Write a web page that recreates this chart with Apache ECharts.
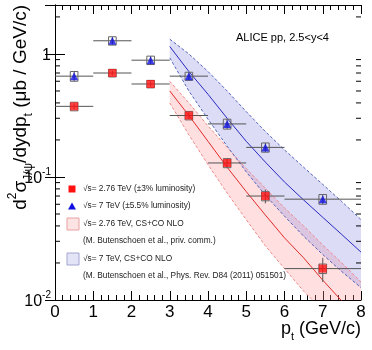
<!DOCTYPE html>
<html>
<head>
<meta charset="utf-8">
<script src="https://cdn.jsdelivr.net/npm/echarts@6/dist/echarts.min.js"></script>
<style>
  html, body { margin: 0; padding: 0; background: #fff; }
  #chart { width: 372px; height: 350px; }
</style>
</head>
<body>
<div id="chart"></div>
<script>
// measured points, bin centres and bin edges (GeV/c)
var ptBins = [0.5, 1.5, 2.5, 3.5, 4.5, 5.5, 7];
var binLo = [0, 1, 2, 3, 4, 5, 6];
var binHi = [1, 2, 3, 4, 5, 6, 8];

// sqrt(s) = 2.76 TeV
var red276 = [0.375, 0.70, 0.57, 0.316, 0.130, 0.070, 0.018];
var redStat = [0.02, 0.03, 0.025, 0.02, 0.012, 0.009, 0.004];
var redSys = [0.03, 0.05, 0.04, 0.025, 0.011, 0.006, 0.0016];

// sqrt(s) = 7 TeV
var blue7 = [0.66, 1.28, 0.89, 0.66, 0.27, 0.174, 0.066];
var blueStat = [0.06, 0.09, 0.07, 0.05, 0.025, 0.015, 0.006];
var blueSys = [0.06, 0.10, 0.07, 0.05, 0.025, 0.015, 0.006];

// NLO CS+CO bands
var ptTheory = [3, 3.5, 4, 4.5, 5, 5.5, 6, 6.5, 7, 7.5, 8];
var redMid = [0.50, 0.316, 0.195, 0.120, 0.076, 0.049, 0.032, 0.022, 0.0145, 0.0098, 0.0068];
var redUp = [0.60, 0.40, 0.26, 0.174, 0.117, 0.081, 0.056, 0.040, 0.028, 0.020, 0.014];
var redDown = [0.40, 0.22, 0.126, 0.074, 0.045, 0.0275, 0.018, 0.0118, 0.0082, 0.0055, 0.0036];
var blueMid = [1.15, 0.72, 0.47, 0.30, 0.195, 0.132, 0.091, 0.065, 0.047, 0.034, 0.0245];
var blueUp = [1.32, 1.0, 0.72, 0.50, 0.34, 0.234, 0.166, 0.120, 0.087, 0.063, 0.045];
var blueDown = [0.93, 0.50, 0.295, 0.178, 0.110, 0.071, 0.048, 0.033, 0.0234, 0.017, 0.0126];

// log axis minor ticks
var yMinor = [0.02, 0.03, 0.04, 0.05, 0.06, 0.07, 0.08, 0.09,
              0.2, 0.3, 0.4, 0.5, 0.6, 0.7, 0.8, 0.9, 2];

var FONT = 'Liberation Sans, Arial, Helvetica, sans-serif';

function zip(xs, ys) {
  return xs.map(function (x, i) { return [x, ys[i]]; });
}

function bandSeries(up, down, fill) {
  return {
    type: 'custom',
    clip: true,
    z: 1,
    silent: true,
    data: [[3, 1]],
    renderItem: function (params, api) {
      var pts = [];
      for (var i = 0; i < ptTheory.length; i++) pts.push(api.coord([ptTheory[i], up[i]]));
      for (var j = ptTheory.length - 1; j >= 0; j--) pts.push(api.coord([ptTheory[j], down[j]]));
      return { type: 'polygon', shape: { points: pts }, style: { fill: fill } };
    }
  };
}

function curve(ys, color, dashed) {
  return {
    type: 'line',
    data: zip(ptTheory, ys),
    symbol: 'none',
    clip: true,
    z: 2,
    silent: true,
    lineStyle: { color: color, width: 1, type: dashed ? [3, 2] : 'solid' }
  };
}

function errorSeries(vals, stat, sys) {
  return {
    type: 'custom',
    clip: true,
    z: 3,
    silent: true,
    encode: { x: 0, y: 1 },
    data: ptBins.map(function (x, i) { return [x, vals[i], binLo[i], binHi[i], stat[i], sys[i]]; }),
    renderItem: function (params, api) {
      var x = api.value(0), y = api.value(1);
      var l = api.coord([api.value(2), y]), r = api.coord([api.value(3), y]);
      var t = api.coord([x, y + api.value(4)]), b = api.coord([x, y - api.value(4)]);
      var bt = api.coord([x - 0.1, y + api.value(5)]), bb = api.coord([x + 0.1, y - api.value(5)]);
      var ln = { stroke: '#555', lineWidth: 1 };
      return {
        type: 'group',
        children: [
          { type: 'line', shape: { x1: l[0], y1: l[1], x2: r[0], y2: r[1] }, style: ln },
          { type: 'line', shape: { x1: t[0], y1: t[1], x2: b[0], y2: b[1] }, style: ln },
          { type: 'rect', shape: { x: bt[0], y: bt[1], width: bb[0] - bt[0], height: bb[1] - bt[1] },
            style: { fill: 'none', stroke: '#666', lineWidth: 1 } }
        ]
      };
    }
  };
}

var chart = echarts.init(document.getElementById('chart'));

var xAxisBase = {
  type: 'value', min: 0, max: 8, interval: 1,
  axisLine: { lineStyle: { color: '#000', width: 1 } },
  axisTick: { inside: true, length: 9, lineStyle: { color: '#000' } },
  minorTick: { show: true, splitNumber: 5, length: 5, lineStyle: { color: '#000' } },
  splitLine: { show: false }
};
var yAxisBase = {
  type: 'log', logBase: 10, min: 0.01, max: 2.5,
  axisLine: { show: true, lineStyle: { color: '#000', width: 1 } },
  axisTick: { inside: true, length: 10, lineStyle: { color: '#000' } },
  splitLine: { show: false }
};

var legendText = { fontSize: 8.3, fontFamily: FONT, fill: '#222', textVerticalAlign: 'middle' };

chart.setOption({
  animation: false,
  backgroundColor: '#fff',
  grid: { left: 55, right: 11, top: 5, bottom: 50 },
  xAxis: [
    Object.assign({}, xAxisBase, {
      position: 'bottom',
      axisLabel: { fontSize: 17, color: '#000', fontFamily: FONT, margin: 4 }
    }),
    Object.assign({}, xAxisBase, { position: 'top', axisLabel: { show: false } })
  ],
  yAxis: [
    Object.assign({}, yAxisBase, {
      position: 'left',
      axisLabel: {
        margin: 4, showMaxLabel: false, color: '#000', fontFamily: FONT,
        formatter: function (v) {
          var e = Math.round(Math.log10(v));
          if (e === 0) return '{b|1}';
          return '{b|10}{s|' + e + '}';
        },
        rich: {
          b: { fontSize: 16, fontFamily: FONT, color: '#000', lineHeight: 20, verticalAlign: 'bottom' },
          s: { fontSize: 10, fontFamily: FONT, color: '#000', lineHeight: 20, verticalAlign: 'top' }
        }
      }
    }),
    Object.assign({}, yAxisBase, { position: 'right', axisLabel: { show: false } })
  ],
  series: [
    bandSeries(redUp, redDown, 'rgba(255,150,150,0.30)'),
    bandSeries(blueUp, blueDown, 'rgba(130,130,225,0.28)'),
    curve(redUp, '#f08a8a', true),
    curve(redDown, '#f08a8a', true),
    curve(redMid, '#e02a2a', false),
    curve(blueUp, '#5566bb', true),
    curve(blueDown, '#5566bb', true),
    curve(blueMid, '#2a2ac0', false),
    errorSeries(red276, redStat, redSys),
    errorSeries(blue7, blueStat, blueSys),
    {
      type: 'scatter', data: zip(ptBins, red276), symbol: 'rect', symbolSize: 8, z: 4,
      itemStyle: { color: '#ff1010' }
    },
    {
      type: 'scatter', data: zip(ptBins, blue7), symbol: 'triangle', symbolSize: 8, z: 4,
      itemStyle: { color: '#1010e0' }
    },
    {
      // minor ticks of the log axis, both sides
      type: 'custom', silent: true, z: 5, data: yMinor.map(function (v) { return [0, v]; }),
      encode: { x: 0, y: 1 },
      renderItem: function (params, api) {
        var l = api.coord([0, api.value(1)]), r = api.coord([8, api.value(1)]);
        return {
          type: 'group', children: [
            { type: 'line', shape: { x1: l[0], y1: l[1], x2: l[0] + 5, y2: l[1] }, style: { stroke: '#000', lineWidth: 1 } },
            { type: 'line', shape: { x1: r[0], y1: r[1], x2: r[0] - 5, y2: r[1] }, style: { stroke: '#000', lineWidth: 1 } }
          ]
        };
      }
    }
  ],
  graphic: [
    {
      type: 'text', x: 21, y: 5, rotation: Math.PI / 2,
      style: {
        text: '{b|d}{s|2}{b|σ}{u|J/ψ}{b|/dydp}{u|t}{b| (μb / GeV/c)}',
        textAlign: 'right', textVerticalAlign: 'middle',
        rich: {
          b: { fontSize: 19, fontFamily: FONT, fill: '#000', lineHeight: 28, verticalAlign: 'middle' },
          s: { fontSize: 12, fontFamily: FONT, fill: '#000', lineHeight: 28, verticalAlign: 'top' },
          u: { fontSize: 12, fontFamily: FONT, fill: '#000', lineHeight: 28, verticalAlign: 'bottom' }
        }
      }
    },
    {
      type: 'text', x: 361, y: 329,
      style: {
        text: '{b|p}{u|t}{b| (GeV/c)}', textAlign: 'right', textVerticalAlign: 'middle',
        rich: {
          b: { fontSize: 18, fontFamily: FONT, fill: '#000', lineHeight: 26, verticalAlign: 'middle' },
          u: { fontSize: 11, fontFamily: FONT, fill: '#000', lineHeight: 26, verticalAlign: 'bottom' }
        }
      }
    },
    {
      type: 'text', x: 236, y: 38,
      style: { text: 'ALICE pp, 2.5<y<4', fontSize: 11, fontFamily: FONT, fill: '#000', textVerticalAlign: 'middle' }
    },
    // legend
    { type: 'rect', shape: { x: 68.5, y: 185.5, width: 7, height: 7 }, style: { fill: '#ff1010' } },
    { type: 'polygon', shape: { points: [[72, 202.5], [68, 209.5], [76, 209.5]] }, style: { fill: '#1010e0' } },
    { type: 'rect', shape: { x: 67, y: 218, width: 12, height: 12 }, style: { fill: '#fde4e4', stroke: '#eaa0a0', lineWidth: 1 } },
    { type: 'rect', shape: { x: 67, y: 253, width: 12, height: 12 }, style: { fill: '#e4e4f7', stroke: '#a3a3d4', lineWidth: 1 } },
    { type: 'text', x: 83, y: 189, style: Object.assign({ text: '√s= 2.76 TeV (±3% luminosity)' }, legendText) },
    { type: 'text', x: 83, y: 206, style: Object.assign({ text: '√s= 7 TeV (±5.5% luminosity)' }, legendText) },
    { type: 'text', x: 83, y: 224, style: Object.assign({ text: '√s= 2.76 TeV, CS+CO NLO' }, legendText) },
    { type: 'text', x: 83, y: 241, style: Object.assign({ text: '(M. Butenschoen et al., priv. comm.)' }, legendText) },
    { type: 'text', x: 83, y: 259, style: Object.assign({ text: '√s= 7 TeV, CS+CO NLO' }, legendText) },
    { type: 'text', x: 83, y: 276, style: Object.assign({ text: '(M. Butenschoen et al., Phys. Rev. D84 (2011) 051501)' }, legendText) }
  ]
});
</script>
</body>
</html>
